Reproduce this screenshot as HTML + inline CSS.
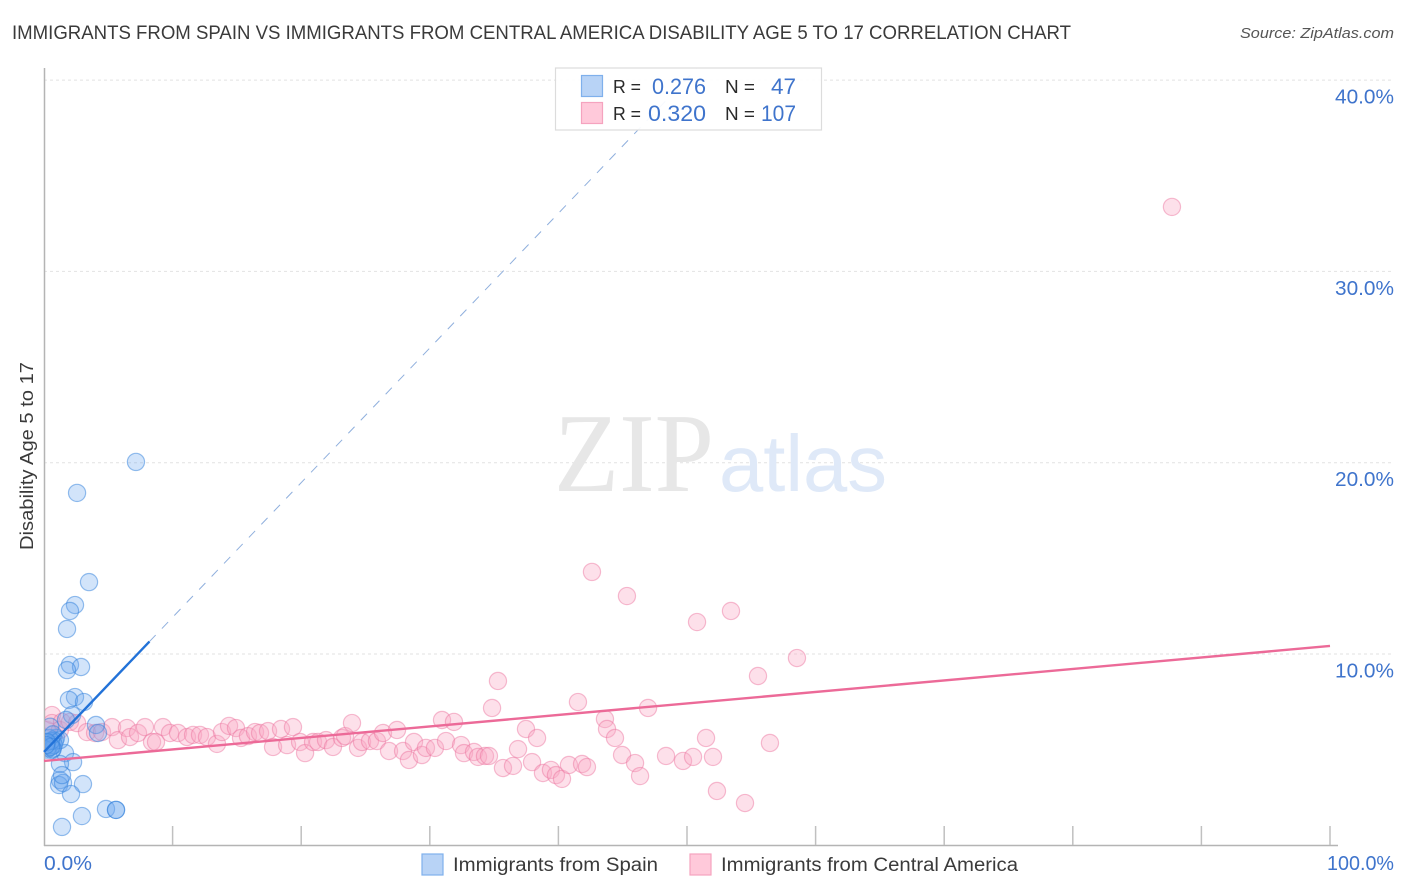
<!DOCTYPE html>
<html>
<head>
<meta charset="utf-8">
<title>Immigrants from Spain vs Immigrants from Central America</title>
<style>
html,body{margin:0;padding:0;background:#fff;}
svg{display:block;font-family:"Liberation Sans",sans-serif;}
</style>
</head>
<body>
<svg id="chart" width="1406" height="892" viewBox="0 0 1406 892" xmlns="http://www.w3.org/2000/svg">
  <defs>
    <clipPath id="plot-clip"><rect x="45" y="60" width="1340" height="786"/></clipPath>
  </defs>
  <text x="12" y="39" font-size="19" fill="#3a3a3a" textLength="1059" lengthAdjust="spacingAndGlyphs">IMMIGRANTS FROM SPAIN VS IMMIGRANTS FROM CENTRAL AMERICA DISABILITY AGE 5 TO 17 CORRELATION CHART</text>
  <text x="1394" y="38" font-size="15" font-style="italic" fill="#555" text-anchor="end" textLength="154" lengthAdjust="spacingAndGlyphs">Source: ZipAtlas.com</text>
  <text transform="translate(33,456) rotate(-90)" font-size="18" fill="#3a3a3a" text-anchor="middle" textLength="188" lengthAdjust="spacingAndGlyphs">Disability Age 5 to 17</text>
  <g id="grid"></g>
  <text x="554" y="491" font-family="Liberation Serif" font-size="112" fill="#e7e7e7" textLength="160" lengthAdjust="spacingAndGlyphs">ZIP</text>
  <text x="719" y="491" font-size="80" fill="#dfe9f8" textLength="168" lengthAdjust="spacingAndGlyphs">atlas</text>
  <g id="axes"></g>
  <g id="points-central" clip-path="url(#plot-clip)"></g>
  <g id="points-spain" clip-path="url(#plot-clip)"></g>
  <g id="trends"></g>
  <g>
    <rect x="555.5" y="68" width="266" height="62" fill="#fff" fill-opacity="0.92" stroke="#dcdcdc" stroke-width="1.2"/>
    <rect x="581.5" y="75.5" width="21" height="21" fill="#b8d3f6" stroke="#7fb0ec" stroke-width="1.2"/>
    <rect x="581.5" y="102.5" width="21" height="21" fill="#ffc9da" stroke="#f5a3bf" stroke-width="1.2"/>
    <text x="613" y="93" font-size="18.5" fill="#2a2a2a" textLength="28" lengthAdjust="spacingAndGlyphs">R =</text>
    <text x="652" y="94" font-size="22" fill="#3f74cc" textLength="54" lengthAdjust="spacingAndGlyphs">0.276</text>
    <text x="725" y="93" font-size="18.5" fill="#2a2a2a" textLength="30" lengthAdjust="spacingAndGlyphs">N =</text>
    <text x="771" y="94" font-size="22" fill="#3f74cc" textLength="25" lengthAdjust="spacingAndGlyphs">47</text>
    <text x="613" y="120" font-size="18.5" fill="#2a2a2a" textLength="28" lengthAdjust="spacingAndGlyphs">R =</text>
    <text x="648" y="121" font-size="22" fill="#3f74cc" textLength="58" lengthAdjust="spacingAndGlyphs">0.320</text>
    <text x="725" y="120" font-size="18.5" fill="#2a2a2a" textLength="30" lengthAdjust="spacingAndGlyphs">N =</text>
    <text x="761" y="121" font-size="22" fill="#3f74cc" textLength="35" lengthAdjust="spacingAndGlyphs">107</text>
  </g>
  <g>
    <rect x="422" y="854" width="21" height="21" fill="#b8d3f6" stroke="#7fb0ec" stroke-width="1.2"/>
    <text x="453" y="871" font-size="19" fill="#3a3a3a" textLength="205" lengthAdjust="spacingAndGlyphs">Immigrants from Spain</text>
    <rect x="690" y="854" width="21" height="21" fill="#ffc9da" stroke="#f5a3bf" stroke-width="1.2"/>
    <text x="721" y="871" font-size="19" fill="#3a3a3a" textLength="297" lengthAdjust="spacingAndGlyphs">Immigrants from Central America</text>
  </g>
</svg>
<script>
const yTickValues = [10, 20, 30, 40];
const yTickLabels = ["10.0%", "20.0%", "30.0%", "40.0%"];
const xTickValues = [0, 10, 20, 30, 40, 50, 60, 70, 80, 90, 100];
const xEndLabels = ["0.0%", "100.0%"];

const spainX = [7.15,2.57,3.50,2.41,2.02,1.79,2.02,2.88,1.79,2.41,1.94,3.11,2.18,1.71,4.04,4.20,1.63,2.26,1.24,1.24,1.17,1.48,1.40,3.03,2.10,4.82,5.60,5.60,2.95,1.40,0.47,0.70,0.31,0.93,0.62,0.85,0.39,0.76,1.24,0.23,0.68,0.54,0.47,0.70,0.23,0.55,0.16];
const spainY = [20.04,18.42,13.76,12.56,12.25,11.31,9.43,9.32,9.16,7.75,7.60,7.49,6.81,6.55,6.29,5.87,4.82,4.35,4.25,3.41,3.15,3.26,3.67,3.20,2.68,1.90,1.85,1.85,1.53,0.96,5.24,5.50,5.09,5.61,4.98,5.45,5.61,5.24,5.50,5.00,5.05,5.45,6.20,5.80,5.40,5.15,5.24];

const centralX = [0.23,0.62,0.62,1.24,1.40,2.02,2.57,3.34,3.97,4.51,5.29,5.75,6.45,6.69,7.31,7.85,8.40,8.71,9.25,9.80,10.42,11.12,
  11.59,12.13,12.67,13.45,13.84,14.39,14.93,15.32,15.86,16.41,16.80,17.42,17.81,18.43,18.90,19.36,19.91,20.30,20.92,21.31,21.93,22.47,23.17,23.41,23.95,24.42,24.73,25.35,25.89,26.36,26.83,27.45,27.92,28.38,28.77,29.39,29.70,30.40,30.95,31.26,31.88,32.43,32.66,33.44,33.75,34.29,
  35.30,34.84,34.60,35.69,36.47,36.86,37.48,38.34,37.95,38.80,39.42,39.81,40.28,40.82,41.84,42.22,41.52,43.62,43.78,44.40,44.95,45.96,46.35,46.97,48.37,49.69,50.47,51.48,52.02,52.33,54.51,55.52,56.45,58.55,
  87.71,42.61,45.33,53.42,50.78];
const centralY = [6.03,6.81,6.39,6.03,6.45,6.45,6.39,5.92,5.87,5.92,6.18,5.50,6.13,5.66,5.87,6.18,5.40,5.40,6.18,5.87,5.87,5.66,
  5.77,5.77,5.66,5.30,5.92,6.24,6.13,5.61,5.71,5.92,5.87,5.97,5.14,6.08,5.24,6.18,5.40,4.82,5.40,5.40,5.50,5.14,5.61,5.71,6.39,5.09,5.40,5.45,5.45,5.87,4.93,6.03,4.93,4.46,5.40,4.72,5.09,5.09,6.55,5.45,6.45,5.24,4.82,4.88,4.62,4.67,
  8.59,7.18,4.67,4.04,4.15,5.03,6.08,5.61,4.35,3.78,3.94,3.67,3.47,4.20,4.25,4.09,7.49,6.60,6.08,5.61,4.72,4.30,3.62,7.18,4.67,4.41,4.62,5.61,4.62,2.84,2.21,8.85,5.35,9.79,
  33.37,14.29,13.03,12.25,11.67];

const spainTrendStart = [0, 4.88];
const spainTrendSolidEnd = [8.2, 10.65];
const spainTrendDashEnd = [50.8, 40.64];
const centralTrendStart = [0, 4.41];
const centralTrendEnd = [100, 10.42];

const NS = 'http://www.w3.org/2000/svg';
const xScale = function (v) { return 44 + v * 12.86; };
const yScale = function (v) { return 845.3 - v * 19.13; };

function mk(parent, tag, attrs) {
  const el = document.createElementNS(NS, tag);
  for (const k in attrs) el.setAttribute(k, attrs[k]);
  parent.appendChild(el);
  return el;
}

const grid = document.getElementById('grid');
yTickValues.forEach(function (v, i) {
  const line = mk(grid, 'line', {x1: 44, x2: 1394, y1: yScale(v), y2: yScale(v), stroke: '#e2e2e2', 'stroke-width': 1, 'stroke-dasharray': '3 3'});
  
  
  const t = mk(grid, 'text', {x: 1335, y: yScale(v) + 23.5, 'font-size': 20, fill: '#3f74cc', textLength: 59, lengthAdjust: 'spacingAndGlyphs'});
  
  
  t.textContent = yTickLabels[i];
});

const axes = document.getElementById('axes');
const yAxisLine = mk(axes, 'line', {x1: 44.5, x2: 44.5, y1: 68, y2: 846, stroke: '#b4b4b4', 'stroke-width': 1.5});


const xAxisLine = mk(axes, 'line', {x1: 44, x2: 1338, y1: 845.5, y2: 845.5, stroke: '#b4b4b4', 'stroke-width': 1.5});


xTickValues.slice(1).forEach(function (v) {
  const tick = mk(axes, 'line', {x1: xScale(v), x2: xScale(v), y1: 826, y2: 845, stroke: '#c0c0c0', 'stroke-width': 1.5});
  
  
});
const xLabelStart = mk(axes, 'text', {x: 44, y: 870, 'font-size': 20, fill: '#3f74cc', textLength: 48, lengthAdjust: 'spacingAndGlyphs'});


xLabelStart.textContent = xEndLabels[0];
const xLabelEnd = mk(axes, 'text', {x: 1327, y: 870, 'font-size': 20, fill: '#3f74cc', textLength: 67, lengthAdjust: 'spacingAndGlyphs'});


xLabelEnd.textContent = xEndLabels[1];

const gCentral = document.getElementById('points-central');
centralX.forEach(function (x, i) {
  const c = mk(gCentral, 'circle', {cx: xScale(x), cy: yScale(centralY[i]), r: 8.6, fill: '#f9a8c4', 'fill-opacity': 0.36, stroke: '#ec6f9b', 'stroke-opacity': 0.45, 'stroke-width': 1.2});
  
  
});

const gSpain = document.getElementById('points-spain');
spainX.forEach(function (x, i) {
  const c = mk(gSpain, 'circle', {cx: xScale(x), cy: yScale(spainY[i]), r: 8.6, fill: '#6aa5ee', 'fill-opacity': 0.3, stroke: '#2f7fdc', 'stroke-opacity': 0.5, 'stroke-width': 1.2});
  
  
});

const gTrends = document.getElementById('trends');
const spainDash = mk(gTrends, 'line', {x1: xScale(spainTrendSolidEnd[0]), y1: yScale(spainTrendSolidEnd[1]), x2: xScale(spainTrendDashEnd[0]), y2: yScale(spainTrendDashEnd[1]), stroke: '#8fafdd', 'stroke-width': 1, 'stroke-dasharray': '9 9'});


const spainSolid = mk(gTrends, 'line', {x1: xScale(spainTrendStart[0]), y1: yScale(spainTrendStart[1]), x2: xScale(spainTrendSolidEnd[0]), y2: yScale(spainTrendSolidEnd[1]), stroke: '#2272d8', 'stroke-width': 2.4});


const centralLine = mk(gTrends, 'line', {x1: xScale(centralTrendStart[0]), y1: yScale(centralTrendStart[1]), x2: xScale(centralTrendEnd[0]), y2: yScale(centralTrendEnd[1]), stroke: '#ec6a98', 'stroke-width': 2.4});


</script>
</body>
</html>
